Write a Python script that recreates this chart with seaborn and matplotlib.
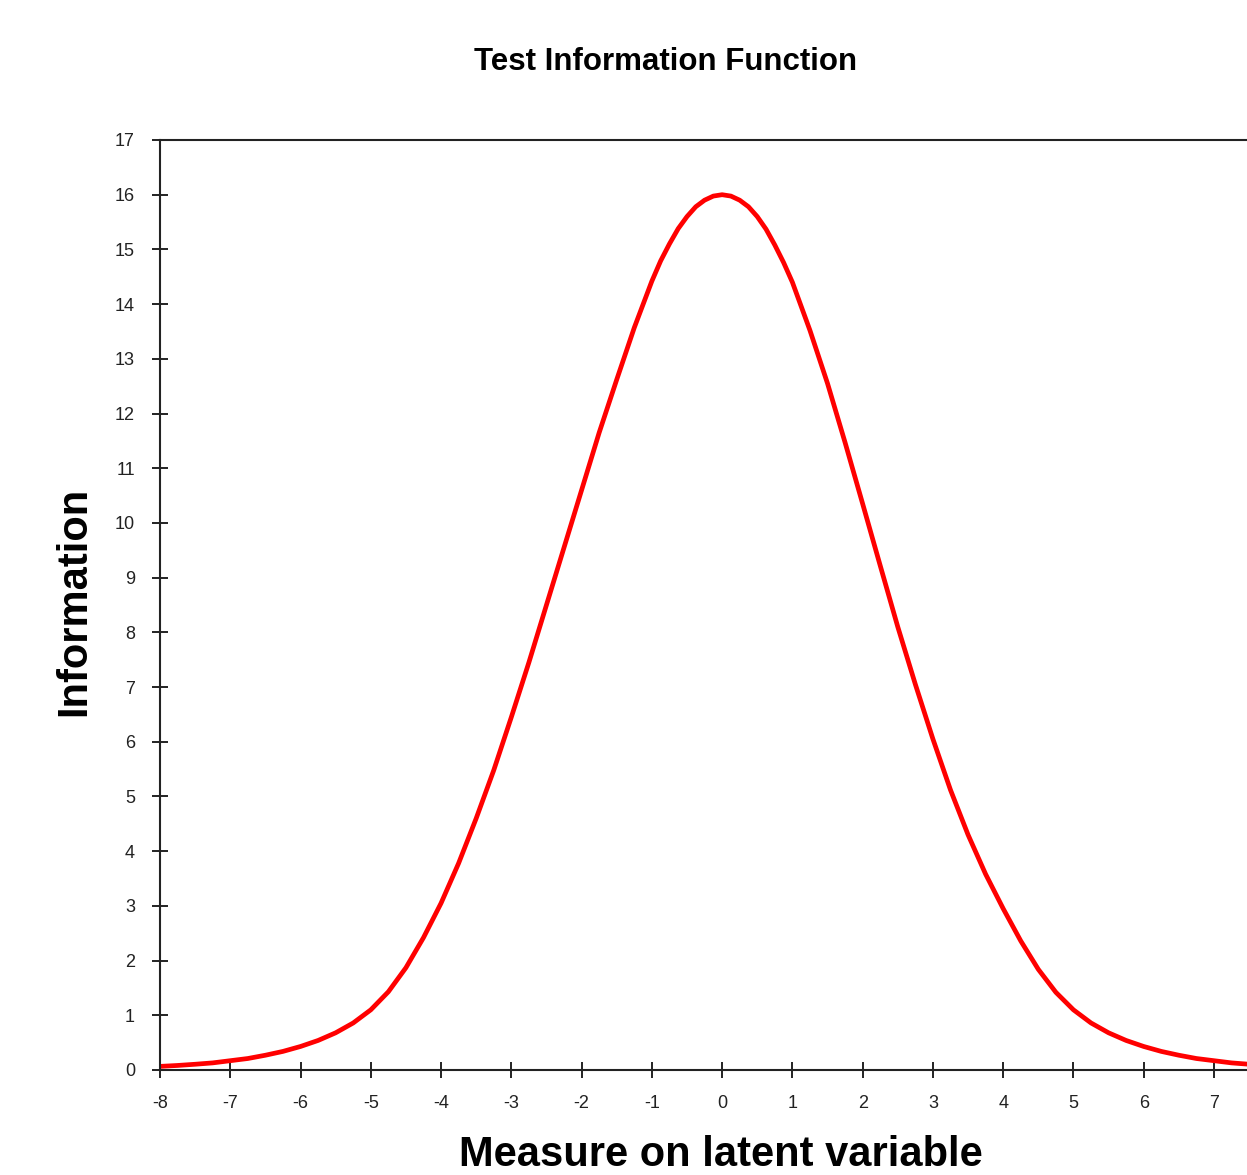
import matplotlib
matplotlib.use("Agg")
import matplotlib.pyplot as plt
import seaborn as sns
import pandas as pd

# latent trait values (theta) and test information
theta = [-8.0, -7.75, -7.5, -7.25, -7.0, -6.75, -6.5, -6.25, -6.0, -5.75, -5.5, -5.25,
         -5.0, -4.75, -4.5, -4.25, -4.0, -3.75, -3.5, -3.25, -3.0, -2.75, -2.5, -2.25,
         -2.0, -1.75, -1.5, -1.25, -1.0, -0.875, -0.75, -0.625, -0.5, -0.375, -0.25, -0.125,
         0.0, 0.125, 0.25, 0.375, 0.5, 0.625, 0.75, 0.875,
         1.0, 1.25, 1.5, 1.75, 2.0, 2.25, 2.5, 2.75, 3.0, 3.25, 3.5, 3.75,
         4.0, 4.25, 4.5, 4.75, 5.0, 5.25, 5.5, 5.75, 6.0, 6.25, 6.5, 6.75,
         7.0, 7.25, 7.5]
information = [0.066, 0.083, 0.105, 0.13, 0.17, 0.21, 0.27, 0.34, 0.43, 0.54, 0.68, 0.86,
               1.10, 1.43, 1.87, 2.42, 3.05, 3.78, 4.60, 5.48, 6.45, 7.45, 8.50, 9.55,
               10.60, 11.65, 12.62, 13.57, 14.42, 14.79, 15.10, 15.38, 15.60, 15.78, 15.90, 15.975,
               16.0, 15.975, 15.90, 15.78, 15.60, 15.37, 15.08, 14.76,
               14.40, 13.52, 12.55, 11.47, 10.35, 9.22, 8.10, 7.05, 6.05, 5.12, 4.30, 3.58,
               2.95, 2.36, 1.84, 1.42, 1.10, 0.86, 0.68, 0.54, 0.43, 0.34, 0.27, 0.21,
               0.17, 0.13, 0.105]
x_ticks = list(range(-8, 8))
y_ticks = list(range(0, 18))

df = pd.DataFrame({"theta": theta, "information": information})

sns.set_style("white")
plt.rcParams["font.family"] = ["Liberation Sans", "DejaVu Sans"]

fig = plt.figure(figsize=(12.47, 11.75), dpi=100)
ax = fig.add_axes([160 / 1247, 1 - 1070 / 1175, 1 - 160 / 1247, (1070 - 140) / 1175])

sns.lineplot(data=df, x="theta", y="information", color="#ff0000", linewidth=3.4,
             solid_joinstyle="round", ax=ax)

ax.set_xlim(-8, 7.47)
ax.set_ylim(0, 17)
ax.set_xticks(x_ticks)
ax.set_yticks(y_ticks)
ax.set_xticklabels([str(v) for v in x_ticks])
ax.set_yticklabels([str(v) for v in y_ticks])
ax.tick_params(bottom=True, left=True, direction="inout", length=11, width=1.4,
               color="#222222", labelsize=13, pad=12.5, labelcolor="#222222")
ax.set_xlabel("")
ax.set_ylabel("")

for side in ["left", "top", "bottom"]:
    ax.spines[side].set_visible(True)
    ax.spines[side].set_color("#222222")
    ax.spines[side].set_linewidth(1.5)
ax.spines["right"].set_visible(False)

fig.text(666 / 1247, 1 - 70 / 1175, "Test Information Function", ha="center", va="baseline",
         fontsize=22.5, fontweight="bold", color="black")
fig.text(721 / 1247, 1 - 1166 / 1175, "Measure on latent variable", ha="center", va="baseline",
         fontsize=30, fontweight="bold", color="black")
fig.text(74 / 1247, 1 - 601 / 1175, "Information", ha="center", va="center", rotation=90,
         fontsize=30, fontweight="bold", color="black")

plt.savefig("out.png", dpi=100)
